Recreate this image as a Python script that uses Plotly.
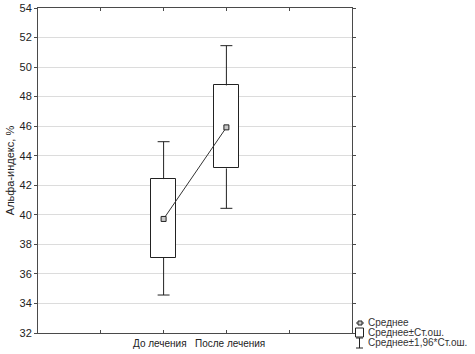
import plotly.graph_objects as go

categories = ["До лечения", "После лечения"]
cat_pos = [2, 3]
means = [39.72, 45.92]
se_low = [37.10, 43.14]
se_high = [42.42, 48.76]
ci_low = [34.57, 40.44]
ci_high = [44.95, 51.45]

y_ticks = list(range(32, 55, 2))

FONT = "Liberation Sans, Arial, sans-serif"
AX = "#4a4a4a"
CAP = 0.095  # half cap width in x units (style)

fig = go.Figure()

# Boxes: mean ± SE
fig.add_trace(go.Bar(
    x=cat_pos, y=[h - l for h, l in zip(se_high, se_low)], base=se_low,
    width=0.4, marker=dict(color="white", line=dict(color="#222", width=1)),
    showlegend=False, hoverinfo="skip"))

# Whiskers: mean ± 1.96 SE (lines from box edges to CI limits, with caps)
wx, wy = [], []
for x, sl, sh, cl, ch in zip(cat_pos, se_low, se_high, ci_low, ci_high):
    wx += [x, x, None, x - CAP, x + CAP, None, x, x, None, x - CAP, x + CAP, None]
    wy += [sh, ch, None, ch, ch, None, sl, cl, None, cl, cl, None]
fig.add_trace(go.Scatter(
    x=wx, y=wy, mode="lines", line=dict(color="#222", width=1),
    showlegend=False, hoverinfo="skip"))

# Means
fig.add_trace(go.Scatter(
    x=cat_pos, y=means, mode="lines+markers",
    line=dict(color="#333", width=1),
    marker=dict(symbol="square", size=5, color="#c8c8c8", line=dict(color="#222", width=1)),
    showlegend=False, hoverinfo="skip"))

fig.update_layout(
    width=475, height=354,
    margin=dict(l=38, r=123, t=8, b=21),
    paper_bgcolor="white", plot_bgcolor="white",
    font=dict(family=FONT, size=10, color="#222"),
    bargap=0,
)
fig.update_xaxes(
    range=[0, 5], tickvals=[1, 2, 3, 4], showticklabels=False, automargin=False,
    showgrid=False, zeroline=False, showline=True, linecolor=AX, linewidth=1, mirror="ticks",
    ticks="inside", ticklen=3, tickcolor=AX,
)
fig.update_yaxes(
    range=[32, 54], tickvals=y_ticks, showgrid=True, gridcolor="#dcdcdc", gridwidth=1,
    zeroline=False, showline=True, linecolor=AX, linewidth=1, mirror="ticks",
    ticks="outside", ticklen=3, tickcolor=AX, tickfont=dict(size=11, color="#222"),
    title=dict(text="Альфа-индекс, %", font=dict(size=11, color="#222"), standoff=2),
    automargin=False,
)

# Category labels
annotations = []
for c, xpos, shift in zip(categories, cat_pos, [-4, 4]):
    annotations.append(dict(text=c, xref="x", yref="paper", x=xpos, y=0, yshift=-10,
                            xshift=shift, xanchor="center", yanchor="middle",
                            showarrow=False, font=dict(size=10, color="#222", family=FONT)))

# Legend (drawn manually), positions given in window pixels
def px(xp):
    return (xp - 38) / 314.0

def py(yp):
    return (333 - yp) / 325.0

shapes = [
    dict(type="line", xref="paper", yref="paper", x0=px(356), x1=px(364), y0=py(323), y1=py(323),
         line=dict(color="#333", width=1)),
    dict(type="rect", xref="paper", yref="paper", x0=px(358), x1=px(362), y0=py(321), y1=py(325),
         line=dict(color="#222", width=1), fillcolor="#c8c8c8"),
    dict(type="rect", xref="paper", yref="paper", x0=px(355.5), x1=px(363.5), y0=py(328), y1=py(337),
         line=dict(color="#222", width=1), fillcolor="white"),
    dict(type="line", xref="paper", yref="paper", x0=px(359.5), x1=px(359.5), y0=py(338), y1=py(348),
         line=dict(color="#222", width=1)),
    dict(type="line", xref="paper", yref="paper", x0=px(356), x1=px(363), y0=py(338), y1=py(338),
         line=dict(color="#222", width=1)),
    dict(type="line", xref="paper", yref="paper", x0=px(356), x1=px(363), y0=py(348), y1=py(348),
         line=dict(color="#222", width=1)),
]
legend_texts = ["Среднее", "Среднее±Ст.ош.", "Среднее±1,96*Ст.ош."]
legend_y = [322.7, 332.5, 342.5]
for t, yy in zip(legend_texts, legend_y):
    annotations.append(dict(text=t, xref="paper", yref="paper", x=px(366), y=py(yy),
                            xanchor="left", yanchor="middle", showarrow=False,
                            font=dict(size=10, color="#333", family=FONT)))
fig.update_layout(shapes=shapes, annotations=annotations)

# remove the page's default body margin so the figure fills the window exactly
fig.write_html("out.html", config={"displayModeBar": False},
               post_script="document.body.style.margin='0px';")
